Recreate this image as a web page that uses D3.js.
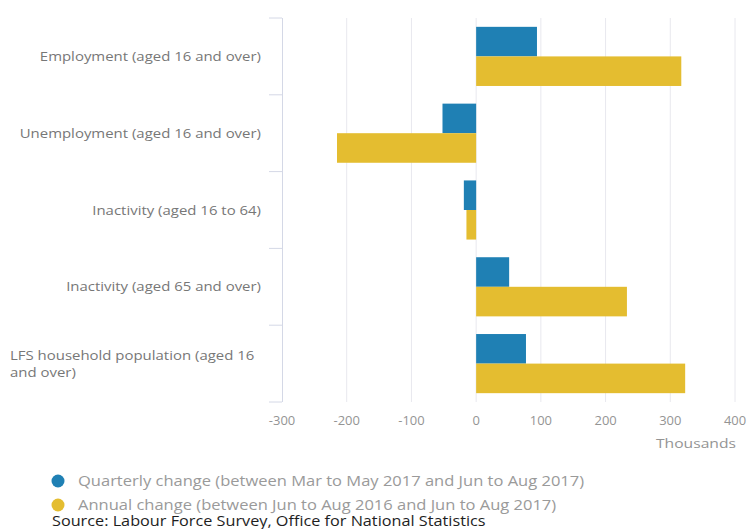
<!DOCTYPE html>
<html>
<head>
<meta charset="utf-8">
<script src="https://cdn.jsdelivr.net/npm/d3@7/dist/d3.min.js"></script>
<style>
  html, body { margin: 0; padding: 0; background: #fff; }
  svg { display: block; font-family: "Open Sans", "DejaVu Sans", sans-serif; }
</style>
</head>
<body>
<svg id="chart" width="748" height="529"></svg>
<script>
// Labour market changes, thousands
const categories = [
  ["Employment (aged 16 and over)"],
  ["Unemployment (aged 16 and over)"],
  ["Inactivity (aged 16 to 64)"],
  ["Inactivity (aged 65 and over)"],
  ["LFS household population (aged 16", "and over)"]
];
const quarterly = [94, -52, -19, 51, 77];
const annual = [317, -215, -15, 233, 323];
const seriesNames = [
  "Quarterly change (between Mar to May 2017 and Jun to Aug 2017)",
  "Annual change (between Jun to Aug 2016 and Jun to Aug 2017)"
];
const xTicks = [-300, -200, -100, 0, 100, 200, 300, 400];
const colors = ["#1f80b4", "#e4bd30"];

const svg = d3.select("#chart");
const plot = { left: 282, right: 735, top: 18, bottom: 402 };

// text helper: wide-set type, stretched horizontally about its anchor
function label(g, x, y, str, o) {
  return g.append("text")
    .attr("transform", `translate(${x},${y}) scale(${o.sx || 1},1)`)
    .attr("text-anchor", o.anchor || "start")
    .attr("font-size", o.size).attr("fill", o.fill)
    .attr("font-weight", o.weight || 400)
    .text(str);
}

const x = d3.scaleLinear().domain([-300, 400]).range([plot.left, plot.right]);
const y = d3.scaleBand().domain(d3.range(categories.length))
  .range([plot.top, plot.bottom]).paddingInner(0.23).paddingOuter(0.115);
const sub = d3.scaleBand().domain([0, 1]).range([0, y.bandwidth()]);

// vertical gridlines
svg.append("g").selectAll("line").data(xTicks.slice(1)).join("line")
  .attr("x1", d => x(d)).attr("x2", d => x(d))
  .attr("y1", plot.top).attr("y2", plot.bottom)
  .attr("stroke", "#e8e8ee").attr("stroke-width", 1);

// category axis with tick marks between bands
const step = (plot.bottom - plot.top) / categories.length;
const axisG = svg.append("g").attr("stroke", "#d4d8e6").attr("stroke-width", 1);
axisG.append("line").attr("x1", plot.left + 0.5).attr("x2", plot.left + 0.5)
  .attr("y1", plot.top).attr("y2", plot.bottom);
axisG.selectAll("line.tk").data(d3.range(categories.length + 1)).join("line")
  .attr("class", "tk")
  .attr("x1", plot.left - 13).attr("x2", plot.left)
  .attr("y1", i => plot.top + i * step).attr("y2", i => plot.top + i * step);

// category labels
const labelG = svg.append("g");
categories.forEach((lines, i) => {
  const cy = plot.top + (i + 0.5) * step;
  if (lines.length === 1) {
    label(labelG, 261, cy + 4.5, lines[0], { size: 13, sx: 1.15, anchor: "end", fill: "#777" });
  } else {
    lines.forEach((l, j) =>
      label(labelG, 10, cy - 3.5 + j * 17, l, { size: 13, sx: 1.15, fill: "#777" }));
  }
});

// bars
[quarterly, annual].forEach((vals, s) => {
  svg.append("g").selectAll("rect").data(vals).join("rect")
    .attr("x", d => x(Math.min(0, d)))
    .attr("width", d => Math.abs(x(d) - x(0)))
    .attr("y", (d, i) => y(i) + sub(s))
    .attr("height", sub.bandwidth())
    .attr("fill", colors[s]);
});

// value axis labels
const tickG = svg.append("g");
xTicks.forEach(t =>
  label(tickG, x(t), 424.5, String(t), { size: 12, sx: 1.08, anchor: "middle", fill: "#949494" }));

label(svg, 736, 448, "Thousands", { size: 13.5, sx: 1.16, anchor: "end", fill: "#949494" });

// legend
const leg = svg.append("g");
seriesNames.forEach((name, i) => {
  const ly = 481 + i * 24;
  leg.append("circle").attr("cx", 58).attr("cy", ly).attr("r", 6.5).attr("fill", colors[i]);
  label(leg, 78, ly + 5, name, { size: 14, sx: 1.18, fill: "#9a9a9a" });
});

label(svg, 52, 526, "Source: Labour Force Survey, Office for National Statistics",
  { size: 14, sx: 1.16, fill: "#1e1e1e" });
</script>
</body>
</html>
